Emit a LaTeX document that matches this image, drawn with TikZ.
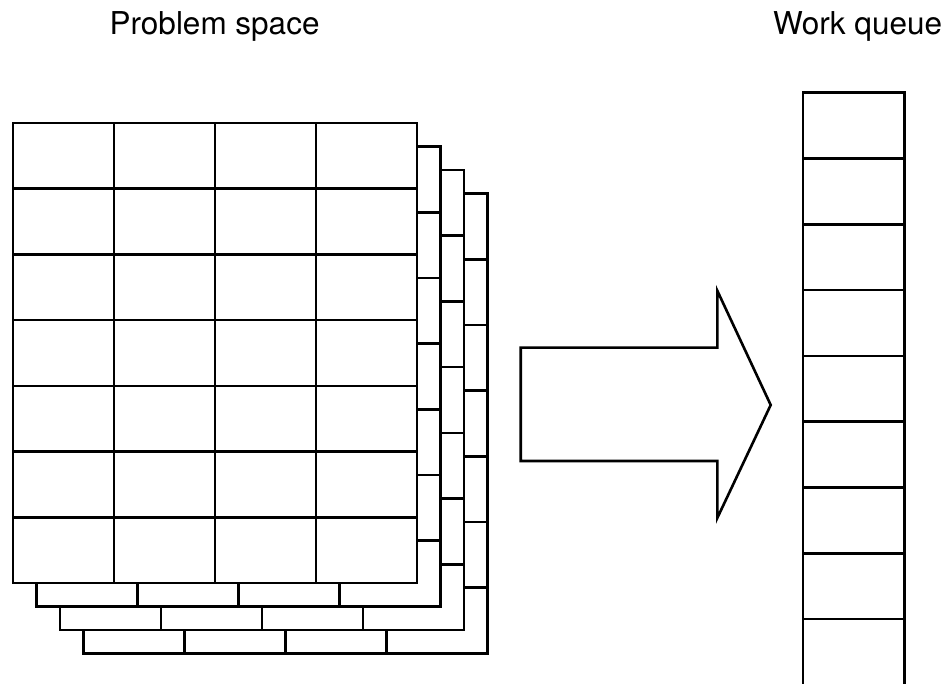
\documentclass[tikz,border=0pt]{standalone}
\usepackage{fontspec}
\setmainfont{TeX Gyre Heros}
\begin{document}
\begin{tikzpicture}[x=1pt,y=-1pt,line width=2.6pt,
  lbl/.style={anchor=base west,inner sep=0pt,font=\fontsize{31.5}{36}\selectfont}]
\useasboundingbox (0,0) rectangle (945,684);
% labels
\node[lbl] (ps) at (108.3,35) {Problem space};
\node[lbl] (wq) at (771.7,35) {Work queue};
% stacked grids, back to front
\foreach \k in {3,2,1,0} {
  \begin{scope}[shift={(23.5*\k,23.5*\k)}]
    \fill[white] (13,123) rectangle (417,583);
    \foreach \i in {1,2,3}
      \draw (13+101*\i,123) -- (13+101*\i,583);
    \foreach \j in {1,...,6}
      \draw (13,123+65.714*\j) -- (417,123+65.714*\j);
    \draw (13,123) rectangle (417,583);
  \end{scope}
}
% big arrow
\draw (520.7,347.7) -- (717.3,347.7) -- (717.3,290.7) -- (770.7,405)
  -- (717.3,518) -- (717.3,461) -- (520.7,461) -- cycle;
% work queue
\foreach \j in {1,...,8}
  \draw (803,92.7+65.8*\j) -- (904.3,92.7+65.8*\j);
\draw (803,92.7) rectangle (904.3,685.4);
\end{tikzpicture}
\end{document}
